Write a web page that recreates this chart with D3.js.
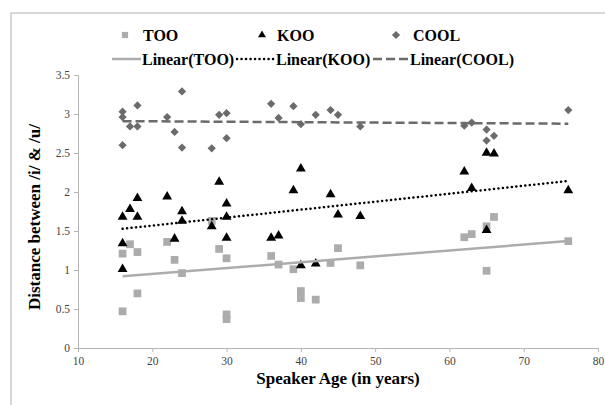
<!DOCTYPE html>
<html>
<head>
  <meta charset="UTF-8">
  <title>Distance by speaker age</title>
  <style>
    body { margin: 0; padding: 0; background: #fff; }
  </style>
</head>
<body>
<svg width="605" height="405"></svg>
<script src="https://d3js.org/d3.v7.min.js"></script>
<script>

// ages and values
var tooAge  = [16, 16, 17, 18, 18, 22, 23, 24, 28, 29, 30, 30, 30, 36, 37, 39, 40, 40, 42, 44, 45, 48, 62, 63, 65, 65, 66, 76]
var tooVal  = [1.21, 0.47, 1.33, 1.23, 0.70, 1.36, 1.13, 0.96, 1.63, 1.27, 1.15, 0.43, 0.37, 1.18, 1.07, 1.01, 0.73, 0.64, 0.62, 1.09, 1.28, 1.06, 1.42, 1.46, 1.56, 0.99, 1.68, 1.37]

var kooAge  = [16, 16, 16, 17, 18, 18, 22, 23, 24, 24, 28, 29, 30, 30, 30, 36, 37, 39, 40, 40, 42, 44, 45, 48, 62, 63, 65, 65, 66, 76]
var kooVal  = [1.68, 1.34, 1.01, 1.78, 1.92, 1.68, 1.94, 1.40, 1.75, 1.63, 1.56, 2.13, 1.85, 1.68, 1.41, 1.41, 1.44, 2.02, 2.30, 1.06, 1.08, 1.97, 1.71, 1.69, 2.26, 2.05, 2.50, 1.51, 2.49, 2.02]

var coolAge = [16, 16, 16, 17, 18, 18, 22, 23, 24, 24, 28, 29, 30, 30, 36, 37, 39, 40, 42, 44, 45, 48, 62, 63, 65, 65, 66, 76]
var coolVal = [3.03, 2.96, 2.60, 2.84, 3.11, 2.84, 2.96, 2.77, 3.29, 2.57, 2.56, 2.99, 3.01, 2.69, 3.13, 2.95, 3.10, 2.87, 2.99, 3.05, 2.99, 2.84, 2.85, 2.89, 2.80, 2.66, 2.72, 3.05]

var xTicks = [10, 20, 30, 40, 50, 60, 70, 80]
var yTicks = [0, 0.5, 1, 1.5, 2, 2.5, 3, 3.5]

var serif = "'Liberation Serif', 'Times New Roman', Times, 'DejaVu Serif', serif"

var svg = d3.select("svg")

// outer chart frame
svg.append("rect")
  .attr("x", 11).attr("y", 13)
  .attr("width", 700).attr("height", 500)
  .attr("fill", "none")
  .attr("stroke", "#b0b0b0")

var x = d3.scaleLinear().domain([10, 80]).range([78, 598])
var y = d3.scaleLinear().domain([0, 3.5]).range([348, 75])

var xAxis = svg.append("g")
  .attr("transform", "translate(0,348)")
  .call(d3.axisBottom(x).tickValues(xTicks).tickSize(4).tickPadding(5).tickFormat(d3.format("d")))

var yAxis = svg.append("g")
  .attr("transform", "translate(78,0)")
  .call(d3.axisLeft(y).tickValues(yTicks).tickSize(4).tickPadding(4).tickFormat(d => d))

;[xAxis, yAxis].forEach(a => {
  a.attr("font-family", null).attr("font-size", null)
  a.select(".domain").attr("stroke", "#b5b5b5")
  a.selectAll(".tick line").attr("stroke", "#b5b5b5")
  a.selectAll(".tick text")
    .attr("fill", "#444")
    .style("font-size", "11.5px")
    .style("font-family", serif)
})

// axis titles
svg.append("text")
  .attr("x", 338).attr("y", 384)
  .attr("text-anchor", "middle")
  .style("font-family", serif)
  .style("font-size", "17px").style("font-weight", "bold")
  .text("Speaker Age (in years)")

svg.append("text")
  .attr("transform", "translate(40,217) rotate(-90)")
  .attr("text-anchor", "middle")
  .style("font-family", serif)
  .style("font-size", "17px").style("font-weight", "bold")
  .text("Distance between /i/ & /u/")

// least squares trendline like Excel's Linear()
function fit(xs, ys) {
  var mx = d3.mean(xs), my = d3.mean(ys)
  var sxy = d3.sum(xs, (v, i) => (v - mx) * (ys[i] - my))
  var sxx = d3.sum(xs, v => (v - mx) * (v - mx))
  var b = sxy / sxx, a = my - b * mx
  var ext = d3.extent(xs)
  return ext.map(v => [v, a + b * v])
}

var line = d3.line().x(d => x(d[0])).y(d => y(d[1]))

var tooColor = "#acacac", kooColor = "#000", coolColor = "#6b6b6b"

var symSquare = d3.symbol().type(d3.symbolSquare).size(60)
var symTri = d3.symbol().type(d3.symbolTriangle).size(42)
var symDia = d3.symbol().type(d3.symbolSquare).size(34)

function points(ages, vals, sym, color, rot) {
  svg.append("g").selectAll("path")
    .data(ages.map((a, i) => [a, vals[i]]))
    .join("path")
    .attr("d", sym)
    .attr("transform", d => "translate(" + x(d[0]) + "," + y(d[1]) + ")" + (rot ? " rotate(45)" : ""))
    .attr("fill", color)
}

points(tooAge, tooVal, symSquare, tooColor, false)
points(kooAge, kooVal, symTri, kooColor, false)
points(coolAge, coolVal, symDia, coolColor, true)

svg.append("path").datum(fit(tooAge, tooVal))
  .attr("d", line).attr("fill", "none")
  .attr("stroke", tooColor).attr("stroke-width", 2.5)

svg.append("path").datum(fit(kooAge, kooVal))
  .attr("d", line).attr("fill", "none")
  .attr("stroke", kooColor).attr("stroke-width", 2.5)
  .attr("stroke-dasharray", "0.1 4.4").attr("stroke-linecap", "round")

svg.append("path").datum(fit(coolAge, coolVal))
  .attr("d", line).attr("fill", "none")
  .attr("stroke", coolColor).attr("stroke-width", 2.5)
  .attr("stroke-dasharray", "9 4")

// legend
var leg = svg.append("g")
var legMarks = [
  {sym: symSquare, color: tooColor, rot: false, mx: 125, tx: 143, label: "TOO"},
  {sym: symTri, color: kooColor, rot: false, mx: 262, tx: 277, label: "KOO"},
  {sym: symDia, color: coolColor, rot: true, mx: 396, tx: 413, label: "COOL"}
]
legMarks.forEach(m => {
  leg.append("path").attr("d", m.sym)
    .attr("transform", "translate(" + m.mx + ",35)" + (m.rot ? " rotate(45)" : " scale(0.8)"))
    .attr("fill", m.color)
  leg.append("text").attr("x", m.tx).attr("y", 41)
    .style("font-family", serif)
    .style("font-size", "16px").style("font-weight", "bold")
    .text(m.label)
})

var legLines = [
  {x1: 112, x2: 141, color: tooColor, dash: null, cap: "butt", tx: 142, label: "Linear(TOO)"},
  {x1: 237, x2: 274, color: kooColor, dash: "0.1 4.4", cap: "round", tx: 276, label: "Linear(KOO)"},
  {x1: 373, x2: 409, color: coolColor, dash: "9 4", cap: "butt", tx: 410, label: "Linear(COOL)"}
]
legLines.forEach(m => {
  leg.append("line").attr("x1", m.x1).attr("x2", m.x2).attr("y1", 59).attr("y2", 59)
    .attr("stroke", m.color).attr("stroke-width", 2.5)
    .attr("stroke-dasharray", m.dash).attr("stroke-linecap", m.cap)
  leg.append("text").attr("x", m.tx).attr("y", 65)
    .style("font-family", serif)
    .style("font-size", "16px").style("font-weight", "bold")
    .text(m.label)
})

</script>
</body>
</html>
